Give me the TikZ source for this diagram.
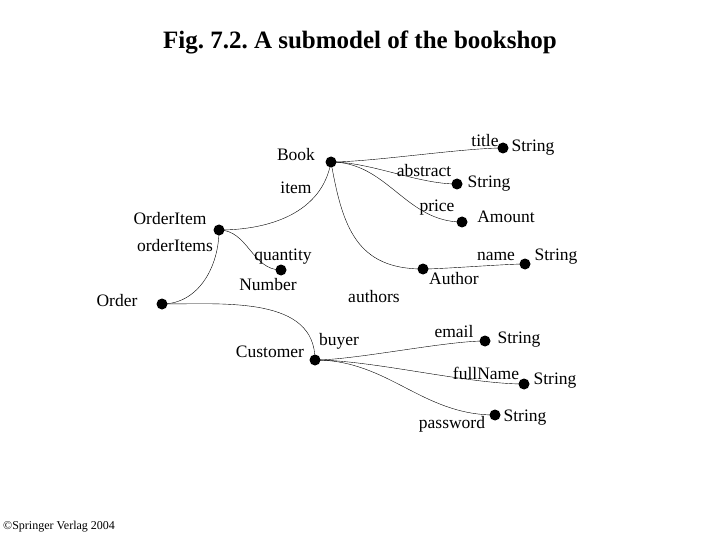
\documentclass[tikz,border=0pt]{standalone}
\usepackage{fontspec}
\setmainfont{Liberation Serif}
\frenchspacing
\begin{document}
\begin{tikzpicture}[x=1pt,y=-1pt,
	dot/.style={circle, fill, inner sep=0pt, minimum size=11pt},
	lbl/.style={inner sep=0pt, font=\fontsize{17.5}{19}\selectfont}]
	\useasboundingbox (0,0) rectangle (720,540);
	\node[font=\fontsize{25}{28}\selectfont\bfseries] (head) at (360,42) {Fig. 7.2. A submodel of the bookshop};
	\node[anchor=west, inner sep=0pt, font=\fontsize{12}{13}\selectfont] (foot) at (3,527) {\textcopyright Springer Verlag 2004};

	%Classes
	\node[dot] (book) at (331,162) {};
	\node[dot] (oitem) at (219,230) {};
	\node[dot] (order) at (162,304) {};
	\node[dot] (cust) at (315,360) {};
	\node[dot] (author) at (423,269) {};
	%Attributes
	\node[dot] (title) at (503,148) {};
	\node[dot] (abstr) at (457,184) {};
	\node[dot] (price) at (462,222) {};
	\node[dot] (quant) at (281,270) {};
	\node[dot] (name) at (525,264) {};
	\node[dot] (email) at (485,341) {};
	\node[dot] (fname) at (524,384) {};
	\node[dot] (pword) at (495,415) {};

	%Labels
	\node[lbl] (lbook) at (296,155) {Book};
	\node[lbl] (litem) at (296,188) {item};
	\node[lbl] (loitem) at (170,219) {OrderItem};
	\node[lbl] (loitems) at (175,246) {orderItems};
	\node[lbl] (lorder) at (117,301) {Order};
	\node[lbl] (lquant) at (283,257) {quantity};
	\node[lbl] (lnum) at (268,285) {Number};
	\node[lbl] (lauths) at (374,297) {authors};
	\node[lbl] (lcust) at (270,352) {Customer};
	\node[lbl] (lbuyer) at (339,341) {buyer};
	\node[lbl] (ltitle) at (485,141) {title};
	\node[lbl] (s1) at (533,148) {String};
	\node[lbl] (labstr) at (424,171) {abstract};
	\node[lbl] (s2) at (489,184) {String};
	\node[lbl] (lprice) at (437,208) {price};
	\node[lbl] (lamount) at (506,217) {Amount};
	\node[lbl] (lname) at (496,256) {name};
	\node[lbl] (s3) at (556,257) {String};
	\node[lbl] (lauthor) at (454,279) {Author};
	\node[lbl] (lemail) at (454,332) {email};
	\node[lbl] (s4) at (519,340) {String};
	\node[lbl] (lfname) at (486,373) {fullName};
	\node[lbl] (s5) at (555,381) {String};
	\node[lbl] (lpword) at (452,424) {password};
	\node[lbl] (s6) at (525,418) {String};

	%Links
	\draw (book.center) to[out=0,in=180,looseness=0.6] (title.center);
	\draw (book.center) to[out=0,in=180,looseness=0.8] (abstr.center);
	\draw (book.center) to[out=0,in=180] (price.center);
	\draw (book.center) to[out=-80,in=180,looseness=1.2] (author.center);
	\draw (author.center) to[out=0,in=180,looseness=0.5] (name.center);
	\draw (oitem.center) to[out=0,in=-100] (book.center);
	\draw (oitem.center) to[out=0,in=180] (quant.center);
	\draw (oitem.center) to[out=-90,in=0] (order.center);
	\draw (order.center) to[out=0,in=90] (cust.center);
	\draw (cust.center) to[out=0,in=180,looseness=0.6] (email.center);
	\draw (cust.center) to[out=0,in=180,looseness=0.7] (fname.center);
	\draw (cust.center) to[out=0,in=180] (pword.center);
\end{tikzpicture}
\end{document}
